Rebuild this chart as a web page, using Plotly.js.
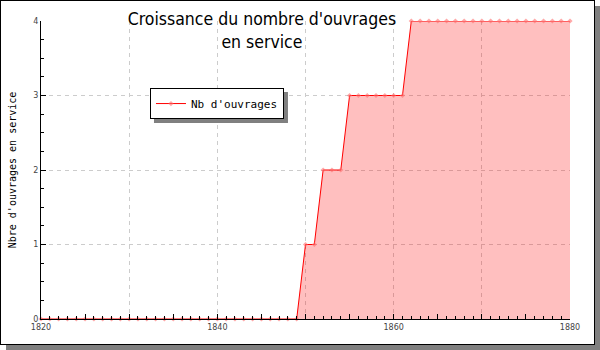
<!DOCTYPE html>
<html>
<head>
<meta charset="utf-8">
<script src="https://cdn.plot.ly/plotly-3.0.1.min.js"></script>
<style>
  html, body { margin: 0; padding: 0; background: #ffffff; }
  #frame { position: absolute; left: 0; top: 0; width: 593px; height: 343px;
           border: 1px solid #000; box-shadow: 6px 6px 0 #808080; background: #fff; }
  #chart { width: 593px; height: 343px; }
</style>
</head>
<body>
<div id="frame"><div id="chart"></div></div>
<script>
// ---- data ----
const years = [1820,1821,1822,1823,1824,1825,1826,1827,1828,1829,
               1830,1831,1832,1833,1834,1835,1836,1837,1838,1839,
               1840,1841,1842,1843,1844,1845,1846,1847,1848,1849,
               1850,1851,1852,1853,1854,1855,1856,1857,1858,1859,
               1860,1861,1862,1863,1864,1865,1866,1867,1868,1869,
               1870,1871,1872,1873,1874,1875,1876,1877,1878,1879,1880];
const ouvrages = [0,0,0,0,0,0,0,0,0,0,
                  0,0,0,0,0,0,0,0,0,0,
                  0,0,0,0,0,0,0,0,0,0,
                  1,1,2,2,2,3,3,3,3,3,
                  3,3,4,4,4,4,4,4,4,4,
                  4,4,4,4,4,4,4,4,4,4,4];
const seriesName = "Nb d'ouvrages";
const xTickVals = [1820,1830,1840,1850,1860,1870,1880];
const xTickText = ['1820','','1840','','1860','','1880'];
const xMidTicks = [1825,1835,1845,1855,1865,1875];
const yTickVals = [0,1,2,3,4];
const chartTitle = "Croissance du nombre d'ouvrages<br>en service";
const yTitle = "Nbre d'ouvrages en service";

const traces = [
  {
    x: years, y: ouvrages, name: seriesName,
    type: 'scatter', mode: 'none',
    fill: 'tozeroy', fillcolor: 'rgba(255,0,0,0.25)',
    showlegend: false, hoverinfo: 'skip'
  },
  {
    x: years, y: ouvrages, name: seriesName,
    type: 'scatter', mode: 'lines+markers',
    line: {color: '#ff0000', width: 1},
    marker: {symbol: 'diamond', size: 4, color: 'rgba(255,110,110,0.6)'},
    cliponaxis: false, hoverinfo: 'skip'
  },
  {
    x: [xTickVals[0], xTickVals[xTickVals.length-1]], y: [0, 0],
    xaxis: 'x2', yaxis: 'y', mode: 'none', type: 'scatter',
    showlegend: false, hoverinfo: 'skip'
  }
];

const M = {l: 40, r: 24, t: 20, b: 25};
const W = 593, H = 343;

const layout = {
  width: W, height: H,
  margin: M,
  paper_bgcolor: '#ffffff', plot_bgcolor: 'rgba(0,0,0,0)',
  font: {family: 'DejaVu Sans', color: '#000'},
  title: {
    text: chartTitle,
    font: {family: 'DejaVu Sans Condensed, DejaVu Sans', size: 17.5, color: '#000'},
    x: 0.44, xref: 'container', xanchor: 'center',
    y: 0.93, yref: 'container', yanchor: 'top'
  },
  showlegend: true,
  legend: {
    x: 0.206, y: 0.775, xanchor: 'left', yanchor: 'top',
    bgcolor: '#ffffff', bordercolor: '#000', borderwidth: 1,
    itemwidth: 30,
    font: {family: 'DejaVu Sans Mono', size: 11, color: '#000'}
  },
  xaxis: {
    range: [1820, 1880], tickmode: 'array', tickvals: xTickVals, ticktext: xTickText,
    ticks: 'inside', ticklen: 5, tickcolor: '#000', tickwidth: 1,
    showline: true, linecolor: '#000', linewidth: 1,
    showgrid: true, gridcolor: '#cccccc', griddash: '4px,4px', gridwidth: 1,
    zeroline: false,
    tickfont: {family: 'DejaVu Sans', size: 8, color: '#444'},
    minor: {dtick: 1, ticks: 'inside', ticklen: 3, tickcolor: '#000', showgrid: false}
  },
  xaxis2: {
    range: [1820, 1880], overlaying: 'x', anchor: 'y', side: 'bottom',
    tickmode: 'array', tickvals: xMidTicks, showticklabels: false,
    ticks: 'inside', ticklen: 5, tickcolor: '#000',
    showgrid: false, showline: false, zeroline: false
  },
  yaxis: {
    range: [0, 4], tickmode: 'array', tickvals: yTickVals,
    ticks: 'inside', ticklen: 5, tickcolor: '#000',
    showline: true, linecolor: '#000', linewidth: 1,
    showgrid: true, gridcolor: '#cccccc', griddash: '4px,4px', gridwidth: 1,
    zeroline: false,
    tickfont: {family: 'DejaVu Sans', size: 8, color: '#444'},
    minor: {dtick: 0.25, ticks: 'inside', ticklen: 3, tickcolor: '#000', showgrid: false},
    title: {text: yTitle, font: {family: 'DejaVu Sans Mono', size: 10, color: '#000'}, standoff: 14}
  }
};

Plotly.newPlot('chart', traces, layout, {displayModeBar: false, staticPlot: true}).then(function (gd) {
  // drop shadow behind the legend box, sized from the rendered legend
  const fl = gd._fullLayout;
  const pw = W - M.l - M.r, ph = H - M.t - M.b;
  const lw = fl.legend._width, lh = fl.legend._height;
  const left = 0.206 * pw, top = (1 - 0.775) * ph;
  const off = 4;
  const shape = {
    type: 'rect', xref: 'paper', yref: 'paper', layer: 'above',
    x0: (left + off) / pw, x1: (left + lw + off) / pw,
    y0: 1 - (top + lh + off) / ph, y1: 1 - (top + off) / ph,
    fillcolor: '#808080', line: {width: 0}
  };
  return Plotly.relayout(gd, {shapes: [shape]});
});
</script>
</body>
</html>
